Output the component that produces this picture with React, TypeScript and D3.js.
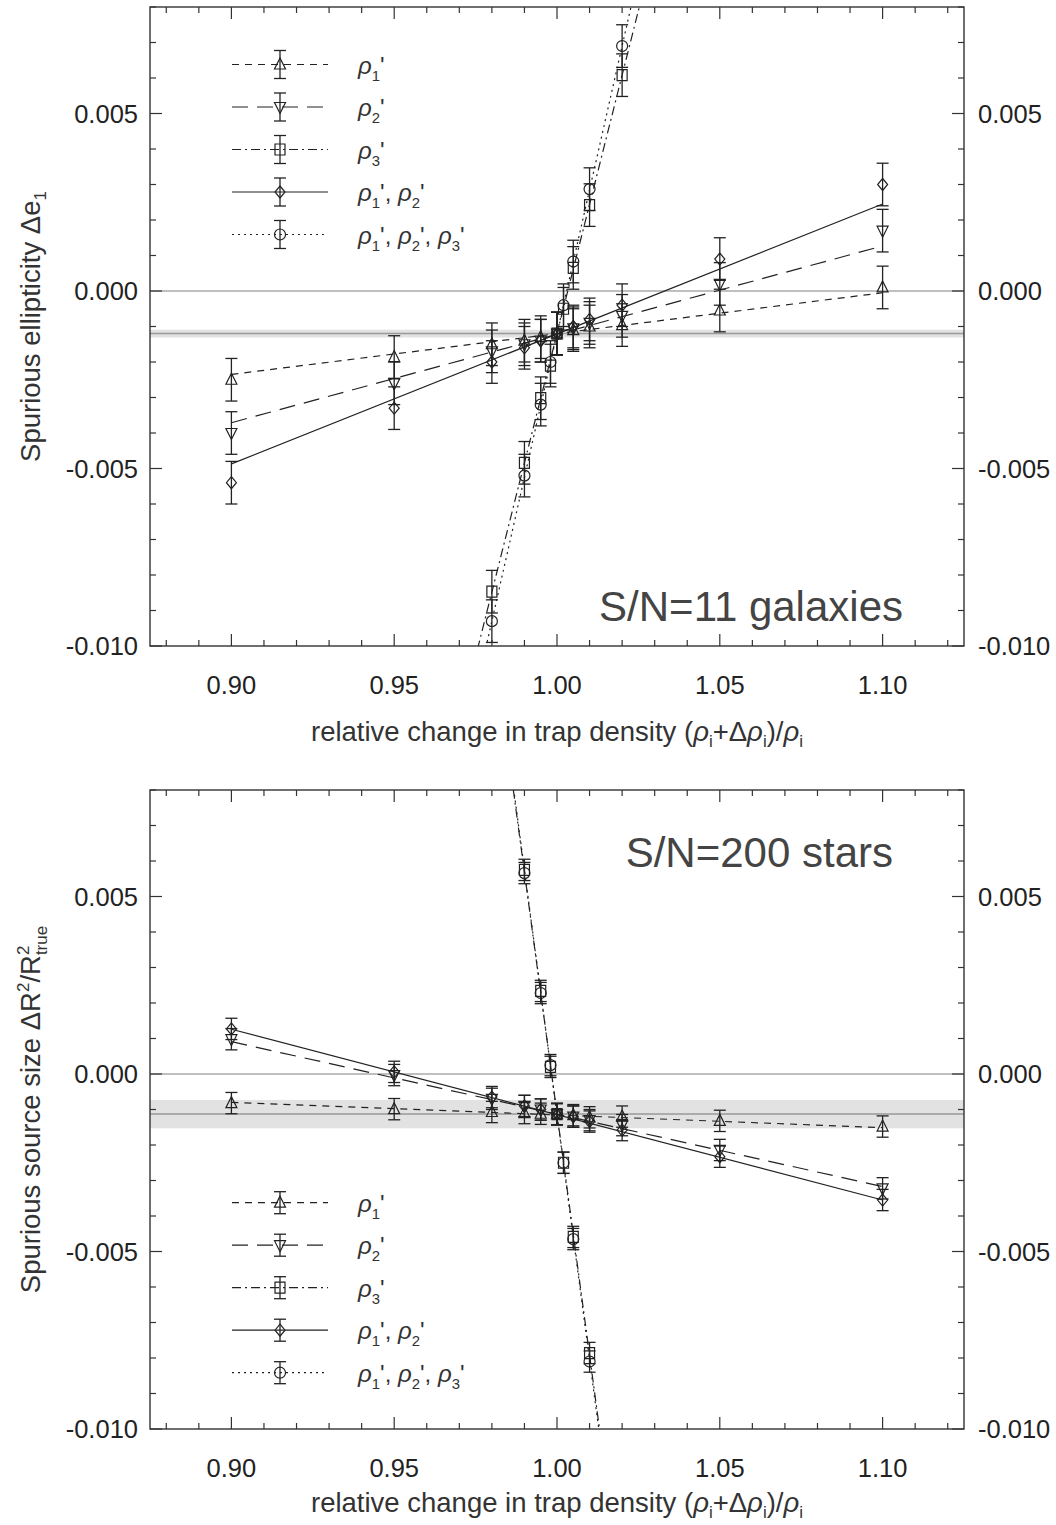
import React from 'react';
import * as d3 from 'd3';

// ---------- data ----------
const xMain = [0.90, 0.95, 0.98, 0.99, 0.995, 1.00, 1.005, 1.01, 1.02, 1.05, 1.10];
const xSteepTop = [0.98, 0.99, 0.995, 0.998, 1.00, 1.002, 1.005, 1.01, 1.02];
const xSteepBottom = [0.99, 0.995, 0.998, 1.00, 1.002, 1.005, 1.01];

// top panel: S/N=11 galaxies, spurious ellipticity
const topRho1 = [-0.0025, -0.00186, -0.0015, -0.0014, -0.0013, -0.0012, -0.0011, -0.0010, -0.00096, -0.00055, 0.0001];
const topRho2 = [-0.0040, -0.0026, -0.0017, -0.0015, -0.0014, -0.0012, -0.00105, -0.0009, -0.0007, 0.0002, 0.0017];
const topRho12 = [-0.0054, -0.0033, -0.0020, -0.0016, -0.0014, -0.0012, -0.0010, -0.0008, -0.0004, 0.0009, 0.0030];
const topRho3 = [-0.00847, -0.00484, -0.00302, -0.0021, -0.0012, -0.0005, 0.00065, 0.00242, 0.00608];
const topRho123 = [-0.0093, -0.0052, -0.0032, -0.0020, -0.0012, -0.0004, 0.00083, 0.00287, 0.0069];
const topErr = 0.0006;
// linear fits: slope and value at 1.00 (order rho1, rho2, rho3, rho12, rho123)
const topFitSlope = [0.0115, 0.0249, 0.364, 0.0366, 0.405];
const topFitAtOne = [-0.0012, -0.00122, -0.0012, -0.00121, -0.0012];
const topBand = [-0.0012, 0.00011];

// bottom panel: S/N=200 stars, spurious source size
const botRho1 = [-0.00082, -0.00099, -0.00107, -0.0011, -0.00112, -0.00113, -0.00116, -0.00122, -0.0012, -0.00132, -0.00148];
const botRho2 = [0.00098, -0.00003, -0.0007, -0.0009, -0.0010, -0.00113, -0.0012, -0.0013, -0.00144, -0.00214, -0.00322];
const botRho12 = [0.00127, 0.00006, -0.00065, -0.0009, -0.0010, -0.00113, -0.0012, -0.00134, -0.00158, -0.00233, -0.00355];
const botRho3 = [0.00575, 0.00234, 0.0002, -0.00113, -0.0025, -0.00459, -0.00786];
const botRho123 = [0.00566, 0.00228, 0.00025, -0.00113, -0.0025, -0.00465, -0.0081];
const botErr = 0.0003;
const botFitSlope = [-0.00355, -0.0204, -0.68, -0.02405, -0.69];
const botFitAtOne = [-0.001155, -0.00113, -0.00112, -0.001145, -0.00115];
const botBand = [-0.00113, 0.0004];

const legendNums = [[1], [2], [3], [1, 2], [1, 2, 3]];
const seriesDash = ['7,6', '16,9', '9,4,2,4', 'none', '2,4'];
const seriesMarker = ['triUp', 'triDown', 'square', 'diamond', 'circle'];

const xTicksMajor = [0.90, 0.95, 1.00, 1.05, 1.10];
const xTickLabels = ['0.90', '0.95', '1.00', '1.05', '1.10'];
const yTicksMajor = [0.005, 0.000, -0.005, -0.010];
const yTickLabels = ['0.005', '0.000', '-0.005', '-0.010'];
const xDomain = [0.875, 1.125];
const yDomain = [-0.010, 0.008];
const fitRange = [0.90, 1.10];

// ---------- drawing helpers ----------
const INK = '#222';
const FONT = '"Liberation Sans", Arial, Helvetica, sans-serif';

function markerPath(kind: string): string | null {
  switch (kind) {
    case 'triUp': return 'M0,-6.5L5.5,4.5L-5.5,4.5Z';
    case 'triDown': return 'M0,6.5L5.5,-4.5L-5.5,-4.5Z';
    case 'square': return 'M-5,-5.5H5V5.5H-5Z';
    case 'diamond': return 'M0,-6L5,0L0,6L-5,0Z';
    default: return null;
  }
}

function Marker({ kind, cx, cy }: { kind: string; cx: number; cy: number }) {
  const p = markerPath(kind);
  if (!p) return <circle cx={cx} cy={cy} r={5.5} fill="none" stroke={INK} strokeWidth={1.2} />;
  return <path d={p} transform={`translate(${cx},${cy})`} fill="none" stroke={INK} strokeWidth={1.2} />;
}

function ErrBar({ cx, yLo, yHi }: { cx: number; yLo: number; yHi: number }) {
  return (
    <g stroke={INK} strokeWidth={1.3} fill="none">
      <line x1={cx} x2={cx} y1={yLo} y2={yHi} />
      <line x1={cx - 6} x2={cx + 6} y1={yLo} y2={yLo} />
      <line x1={cx - 6} x2={cx + 6} y1={yHi} y2={yHi} />
    </g>
  );
}

function RhoLabel({ nums, x, y, size }: { nums: number[]; x: number; y: number; size: number }) {
  const parts: any[] = [];
  const sub = size * 0.3;
  nums.forEach((n, j) => {
    if (j > 0) parts.push(<tspan key={'c' + j}>, </tspan>);
    parts.push(<tspan key={'r' + j} fontStyle="italic">ρ</tspan>);
    parts.push(<tspan key={'n' + j} dy={sub} fontSize={size * 0.62}>{n}</tspan>);
    parts.push(<tspan key={'p' + j} dy={-sub}>'</tspan>);
  });
  return <text x={x} y={y} fontSize={size} fill="#333" fontFamily={FONT}>{parts}</text>;
}

type PanelCfg = {
  y0: number; y1: number;
  xMain: number[]; xSteep: number[];
  main: number[][]; steep: number[][];
  err: number; fitSlope: number[]; fitAtOne: number[]; band: number[];
  title: string; titleX: number; titleY: number;
  legendY0: number; legendErr: number;
  xLabelY: number;
  ylabel: 'e' | 'r';
  id: string;
};

function Panel({ cfg }: { cfg: PanelCfg }) {
  const x = d3.scaleLinear().domain(xDomain).range([150, 964]);
  const y = d3.scaleLinear().domain(yDomain).range([cfg.y1, cfg.y0]);
  const [xl, xr] = x.range();
  const xMinor = d3.range(88, 113).map((i) => i / 100);
  const yMinor = d3.range(-10, 9).map((i) => i / 1000);
  const isMajorX = (v: number) => xTicksMajor.some((m) => Math.abs(m - v) < 1e-9);
  const isMajorY = (v: number) => yTicksMajor.some((m) => Math.abs(m - v) < 1e-9);
  const clipId = 'clip-' + cfg.id;
  const line = d3.line<number>().x((d) => x(d[0])).y((d) => y(d[1]));

  const seriesData = [
    { xs: cfg.xMain, ys: cfg.main[0] },
    { xs: cfg.xMain, ys: cfg.main[1] },
    { xs: cfg.xSteep, ys: cfg.steep[0] },
    { xs: cfg.xMain, ys: cfg.main[2] },
    { xs: cfg.xSteep, ys: cfg.steep[1] },
  ];

  const midY = (cfg.y0 + cfg.y1) / 2;
  const midX = (xl + xr) / 2;
  const LBL = 27.5;

  return (
    <g>
      <defs>
        <clipPath id={clipId}>
          <rect x={xl} y={cfg.y0} width={xr - xl} height={cfg.y1 - cfg.y0} />
        </clipPath>
      </defs>
      <g clipPath={`url(#${clipId})`}>
        <rect x={xl} width={xr - xl} y={y(cfg.band[0] + cfg.band[1])}
          height={y(cfg.band[0] - cfg.band[1]) - y(cfg.band[0] + cfg.band[1])} fill="#e2e2e2" />
        <line x1={xl} x2={xr} y1={y(cfg.band[0])} y2={y(cfg.band[0])} stroke="#999" strokeWidth={1.5} />
        <line x1={xl} x2={xr} y1={y(0)} y2={y(0)} stroke="#aaa" strokeWidth={1.6} />
        {cfg.fitSlope.map((s, i) => {
          const pts = fitRange.map((xv) => [xv, cfg.fitAtOne[i] + s * (xv - 1)]);
          return (
            <path key={'fit' + i} d={line(pts as any) || ''} fill="none" stroke={INK} strokeWidth={1.2}
              strokeDasharray={seriesDash[i] === 'none' ? undefined : seriesDash[i]} />
          );
        })}
        {seriesData.map((s, i) => (
          <g key={'s' + i}>
            {s.xs.map((xv, k) => (
              <g key={k}>
                <ErrBar cx={x(xv)} yLo={y(s.ys[k] - cfg.err)} yHi={y(s.ys[k] + cfg.err)} />
                <Marker kind={seriesMarker[i]} cx={x(xv)} cy={y(s.ys[k])} />
              </g>
            ))}
          </g>
        ))}
      </g>

      <rect x={xl} y={cfg.y0} width={xr - xl} height={cfg.y1 - cfg.y0} fill="none" stroke="#333" strokeWidth={1.4} />
      {xMinor.map((v) => {
        const len = isMajorX(v) ? 12 : 6;
        return (
          <g key={'xt' + v} stroke="#333" strokeWidth={1.2}>
            <line x1={x(v)} x2={x(v)} y1={cfg.y1} y2={cfg.y1 - len} />
            <line x1={x(v)} x2={x(v)} y1={cfg.y0} y2={cfg.y0 + len} />
          </g>
        );
      })}
      {yMinor.map((v) => {
        const len = isMajorY(v) ? 12 : 6;
        return (
          <g key={'yt' + v} stroke="#333" strokeWidth={1.2}>
            <line x1={xl} x2={xl + len} y1={y(v)} y2={y(v)} />
            <line x1={xr} x2={xr - len} y1={y(v)} y2={y(v)} />
          </g>
        );
      })}
      {xTicksMajor.map((v, i) => (
        <text key={'xl' + i} x={x(v)} y={cfg.y1 + 48} textAnchor="middle" fontSize={25.5} fill="#222" fontFamily={FONT}>
          {xTickLabels[i]}
        </text>
      ))}
      {yTicksMajor.map((v, i) => (
        <g key={'yl' + i}>
          <text x={xl - 12} y={y(v) + 9} textAnchor="end" fontSize={25.5} fill="#222" fontFamily={FONT}>{yTickLabels[i]}</text>
          <text x={xr + 14} y={y(v) + 9} textAnchor="start" fontSize={25.5} fill="#222" fontFamily={FONT}>{yTickLabels[i]}</text>
        </g>
      ))}
      <text x={midX} y={cfg.xLabelY} textAnchor="middle" fontSize={LBL} fill="#333" fontFamily={FONT}>
        <tspan>relative change in trap density (</tspan>
        <tspan fontStyle="italic">ρ</tspan>
        <tspan dy={6} fontSize={17}>i</tspan>
        <tspan dy={-6}>+Δ</tspan>
        <tspan fontStyle="italic">ρ</tspan>
        <tspan dy={6} fontSize={17}>i</tspan>
        <tspan dy={-6}>)/</tspan>
        <tspan fontStyle="italic">ρ</tspan>
        <tspan dy={6} fontSize={17}>i</tspan>
      </text>
      <g transform={`translate(40,${midY}) rotate(-90)`}>
        {cfg.ylabel === 'e' ? (
          <text x={0} y={0} textAnchor="middle" fontSize={LBL} fill="#333" fontFamily={FONT}>
            <tspan>Spurious ellipticity Δe</tspan>
            <tspan dy={6} fontSize={17}>1</tspan>
          </text>
        ) : (
          <text x={0} y={0} textAnchor="middle" fontSize={LBL} fill="#333" fontFamily={FONT}>
            <tspan>Spurious source size ΔR</tspan>
            <tspan dy={-11} fontSize={17}>2</tspan>
            <tspan dy={11}>/R</tspan>
            <tspan dy={-11} fontSize={17}>2</tspan>
            <tspan dx={-9.5} dy={18} fontSize={17}>true</tspan>
          </text>
        )}
      </g>
      <text x={cfg.titleX} y={cfg.titleY} textAnchor="end" fontSize={42} fill="#444" fontFamily={FONT}>{cfg.title}</text>
      {legendNums.map((nums, i) => {
        const ly = cfg.legendY0 + i * 42.5;
        return (
          <g key={'lg' + i}>
            <line x1={232} x2={328} y1={ly} y2={ly} stroke={INK} strokeWidth={1.2}
              strokeDasharray={seriesDash[i] === 'none' ? undefined : seriesDash[i]} />
            <ErrBar cx={280} yLo={ly + cfg.legendErr} yHi={ly - cfg.legendErr} />
            <Marker kind={seriesMarker[i]} cx={280} cy={ly} />
            <RhoLabel nums={nums} x={358} y={ly + 9} size={24} />
          </g>
        );
      })}
    </g>
  );
}

const topCfg: PanelCfg = {
  id: 'top', y0: 7, y1: 646,
  xMain, xSteep: xSteepTop,
  main: [topRho1, topRho2, topRho12], steep: [topRho3, topRho123],
  err: topErr, fitSlope: topFitSlope, fitAtOne: topFitAtOne, band: topBand,
  title: 'S/N=11 galaxies', titleX: 903, titleY: 621,
  legendY0: 64.5, legendErr: 14, xLabelY: 741, ylabel: 'e',
};

const botCfg: PanelCfg = {
  id: 'bot', y0: 790, y1: 1429,
  xMain, xSteep: xSteepBottom,
  main: [botRho1, botRho2, botRho12], steep: [botRho3, botRho123],
  err: botErr, fitSlope: botFitSlope, fitAtOne: botFitAtOne, band: botBand,
  title: 'S/N=200 stars', titleX: 893, titleY: 867,
  legendY0: 1202.7, legendErr: 11, xLabelY: 1512, ylabel: 'r',
};

export default function App() {
  return (
    <svg width={1056} height={1525} viewBox="0 0 1056 1525"
      style={{ position: 'absolute', left: 0, top: 0, background: '#fff' }}>
      <rect x={0} y={0} width={1056} height={1525} fill="#fff" />
      <Panel cfg={topCfg} />
      <Panel cfg={botCfg} />
    </svg>
  );
}
